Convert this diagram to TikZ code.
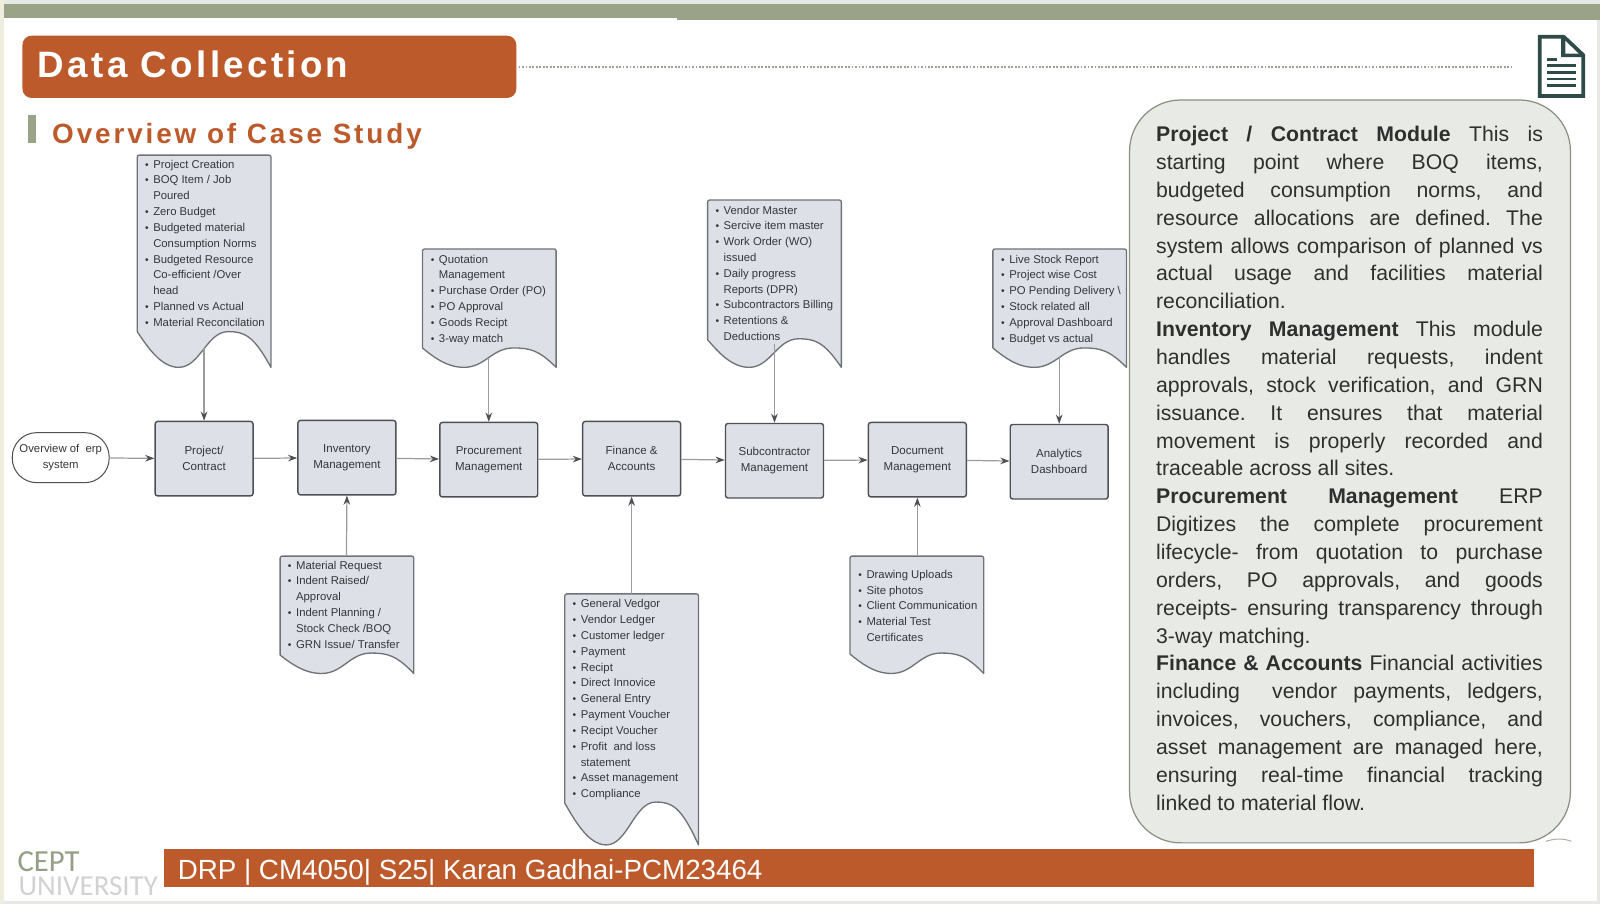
\documentclass[tikz,border=0pt]{standalone}
\usepackage{fontspec}
\setmainfont{Liberation Sans}
\newfontfamily\logofont{Carlito}
\usetikzlibrary{arrows.meta}
\definecolor{rust}{HTML}{BC5A2B}
\definecolor{sage}{HTML}{9AA388}
\definecolor{boxfill}{HTML}{DDE0E6}
\definecolor{boxline}{HTML}{4D5156}
\definecolor{docline}{HTML}{6E7378}
\definecolor{inktxt}{HTML}{33363A}
\definecolor{paneltxt}{HTML}{2E302E}
\definecolor{panelfill}{HTML}{E8EBE5}
\definecolor{panelline}{HTML}{8A8F80}
\definecolor{icon}{HTML}{2F4B49}
\definecolor{edge}{HTML}{E6E9E4}
\definecolor{creamedge}{HTML}{EFEDDD}
\definecolor{flowgrey}{HTML}{9A9C9E}
\definecolor{dotgrey}{HTML}{A0A098}
\newcommand{\flowfont}{\fontsize{11.1}{15.5}\selectfont}
\tikzset{
  x=1pt,y=-1pt,
  flowbox/.style={draw=boxline,line width=1.4pt,fill=boxfill,rounded corners=2.5pt,minimum width=96pt,minimum height=73pt,inner sep=0pt,align=center,text=inktxt,font=\fontsize{11.3}{15.5}\selectfont},
  pillbox/.style={draw=boxline,line width=1pt,fill=white,rounded corners=24pt,minimum width=95pt,minimum height=49pt,inner sep=0pt,align=center,text=inktxt,font=\flowfont},
  doctext/.style={anchor=north west,inner sep=0pt,align=left,text=inktxt,font=\flowfont},
  docshape/.style={draw=docline,line width=1.3pt,fill=boxfill,line join=round},
  arr/.style={draw=flowgrey,line width=1.2pt,-{Stealth[length=9pt,width=6.5pt,fill=boxline,color=boxline]}},
}
\newcommand{\bl}[1]{\makebox[8pt][l]{\fontsize{10}{10}\selectfont •}#1}
\newcommand{\cl}[1]{\hspace*{8pt}#1}
\newcommand{\jl}[1]{\makebox[379pt][s]{#1}}
% x0 x1 ytop yleft ypeak ybottom
\newcommand{\wavedoc}[6]{%
  \pgfmathsetmacro{\dw}{#2-#1}%
  \draw[docshape] (#1,#4) [rounded corners=2pt] -- (#1,#3) -- (#2,#3) [sharp corners] -- (#2,#6)
    .. controls ({#2-0.13*\dw},{#5+0.1*(#6-#5)}) and ({#1+0.80*\dw},#5) .. ({#1+0.68*\dw},#5)
    .. controls ({#1+0.52*\dw},#5) and ({#1+0.47*\dw},#6) .. ({#1+0.31*\dw},#6)
    .. controls ({#1+0.18*\dw},#6) and ({#1+0.08*\dw},{#4+0.45*(#6-#4)}) .. (#1,#4);}
\frenchspacing
\begin{document}
\begin{tikzpicture}
\useasboundingbox (0,0) rectangle (1568,886);
% page
\fill[edge] (0,0) rectangle (1568,886);
\fill[white] (4,4) rectangle (1565,883);
\fill[sage] (4,4) rectangle (663,18);
\fill[sage] (663,4) rectangle (1568,19.5);
\fill[creamedge] (0,0) rectangle (4,886);
% title
\node[fill=rust,rounded corners=9pt,minimum width=484pt,minimum height=61pt,inner sep=0pt] (titlebar) at (264,65.5) {};
\node[anchor=west,inner sep=0pt,text=white,font=\fontsize{36}{36}\selectfont\bfseries\addfontfeature{LetterSpace=9}] (titletext) at (37,63.5) {Data Collection};
\coordinate (dotend) at (1482,66);
\draw[dotgrey,line width=2.2pt,dash pattern=on 1.8pt off 1.6pt] (titlebar.east |- dotend) ++(2,0) -- (dotend);
% subtitle
\fill[sage] (27,113) rectangle (35,140);
\node[anchor=west,inner sep=0pt,text=rust,font=\fontsize{27.3}{27.3}\selectfont\bfseries\addfontfeature{LetterSpace=10.4}] (subtitle) at (51,134) {Overview of Case Study};
% icon
\draw[icon,line width=3.6pt,line join=miter,fill=white] (1509,36) -- (1532,36) -- (1551.5,54) -- (1551.5,94) -- (1509,94) -- cycle;
\fill[icon] (1530,35) -- (1534,35) -- (1553,53) -- (1553,56) -- (1530,56) -- cycle;
\fill[white] (1534,40) -- (1547,52.5) -- (1534,52.5) -- cycle;
\fill[icon] (1516,57) rectangle (1526,59.5);
\foreach \ly in {63,69.5,76,82.5}{\fill[icon] (1516,\ly) rectangle (1544,\ly+2.8);}
% flow boxes
\node[pillbox] (start) at (59.5,448.5) {Overview of~~erp\\system};
\node[flowbox] (b1) at (200,449.5) {Project/\\Contract};
\node[flowbox] (b2) at (340,448.5) {Inventory\\Management};
\node[flowbox] (b3) at (479,450.5) {Procurement\\Management};
\node[flowbox] (b4) at (619,449.5) {Finance \&\\Accounts};
\node[flowbox] (b5) at (759,451.5) {Subcontractor\\Management};
\node[flowbox] (b6) at (899,450.5) {Document\\Management};
\node[flowbox] (b7) at (1038,452.5) {Analytics\\Dashboard};
\foreach \a/\b in {start/b1,b1/b2,b2/b3,b3/b4,b4/b5,b5/b6,b6/b7}{\draw[arr] (\a) -- (\b);}
% documents
\wavedoc{134.5}{265.5}{152}{325}{325}{360}
\node[doctext] (d1) at (142,156.5) {\bl{Project Creation}\\\bl{BOQ Item / Job}\\\cl{Poured}\\\bl{Zero Budget}\\\bl{Budgeted material}\\\cl{Consumption Norms}\\\bl{Budgeted Resource}\\\cl{Co-efficient /Over}\\\cl{head}\\\bl{Planned vs Actual}\\\bl{Material Reconcilation}};
\wavedoc{414}{545}{244}{341}{341}{360}
\node[doctext] (d2) at (422,249.5) {\bl{Quotation}\\\cl{Management}\\\bl{Purchase Order (PO)}\\\bl{PO Approval}\\\bl{Goods Recipt}\\\bl{3-way match}};
\wavedoc{693.5}{824.5}{196}{333}{332}{360}
\node[doctext] (d3) at (701,201.5) {\bl{Vendor Master}\\\bl{Sercive item master}\\\bl{Work Order (WO)}\\\cl{issued}\\\bl{Daily progress}\\\cl{Reports (DPR)}\\\bl{Subcontractors Billing}\\\bl{Retentions \&}\\\cl{Deductions}};
\wavedoc{973}{1104}{244}{341}{341}{360}
\node[doctext] (d4) at (981,249.5) {\bl{Live Stock Report}\\\bl{Project wise Cost}\\\bl{PO Pending Delivery \textbackslash}\\\bl{Stock related all}\\\bl{Approval Dashboard}\\\bl{Budget vs actual}};
\wavedoc{274.5}{405.5}{545}{642}{640}{660}
\node[doctext] (d5) at (282,549.5) {\bl{Material Request}\\\bl{Indent Raised/}\\\cl{Approval}\\\bl{Indent Planning /}\\\cl{Stock Check /BOQ}\\\bl{GRN Issue/ Transfer}};
\wavedoc{553.5}{684.5}{582}{787}{786}{828}
\node[doctext] (d6) at (561,587.5) {\bl{General Vedgor}\\\bl{Vendor Ledger}\\\bl{Customer ledger}\\\bl{Payment}\\\bl{Recipt}\\\bl{Direct Innovice}\\\bl{General Entry}\\\bl{Payment Voucher}\\\bl{Recipt Voucher}\\\bl{Profit~~and loss}\\\cl{statement}\\\bl{Asset management}\\\bl{Compliance}};
\wavedoc{833}{964}{545}{641}{640}{660}
\node[doctext] (d7) at (841,558.5) {\bl{Drawing Uploads}\\\bl{Site photos}\\\bl{Client Communication}\\\bl{Material Test}\\\cl{Certificates}};
% connectors from documents
\coordinate (w1) at (200,341);
\coordinate (w2) at (479,351);
\coordinate (w3) at (759,337);
\coordinate (w4) at (1038,349);
\coordinate (w5) at (339.5,545);
\coordinate (w6) at (619,582);
\coordinate (w7) at (899,545);
\draw[arr] (w1) -- (b1.north);
\draw[arr] (w2) -- (b3.north);
\draw[arr] (w3) -- (b5.north);
\draw[arr] (w4) -- (b7.north);
\draw[arr] (w5) -- (b2.south);
\draw[arr] (w6) -- (b4.south);
\draw[arr] (w7) -- (b6.south);
% panel
\node[draw=panelline,line width=1.2pt,fill=panelfill,rounded corners=50pt,minimum width=432pt,minimum height=728pt,inner sep=0pt] (panel) at (1323,462) {};
\node[inner sep=0pt,align=left,text=paneltxt,font=\fontsize{20.8}{27.3}\selectfont] (paneltext) at (1322.5,459) {%
\jl{\textbf{Project / Contract Module} This is}\\
\jl{starting point where BOQ items,}\\
\jl{budgeted consumption norms, and}\\
\jl{resource allocations are defined. The}\\
\jl{system allows comparison of planned vs}\\
\jl{actual usage and facilities material}\\
reconciliation.\\
\jl{\textbf{Inventory Management} This module}\\
\jl{handles material requests, indent}\\
\jl{approvals, stock verification, and GRN}\\
\jl{issuance. It ensures that material}\\
\jl{movement is properly recorded and}\\
traceable across all sites.\\
\jl{\textbf{Procurement Management} ERP}\\
\jl{Digitizes the complete procurement}\\
\jl{lifecycle- from quotation to purchase}\\
\jl{orders, PO approvals, and goods}\\
\jl{receipts- ensuring transparency through}\\
3-way matching.\\
\jl{\textbf{Finance \& Accounts} Financial activities}\\
\jl{including~~vendor payments, ledgers,}\\
\jl{invoices, vouchers, compliance, and}\\
\jl{asset management are managed here,}\\
\jl{ensuring real-time financial tracking}\\
linked to material flow.};
\draw[panelline!70,line width=1pt] (1515,824.5) .. controls (1524,821.5) and (1532,821.5) .. (1540,824.5);
% footer
\node[fill=rust,minimum width=1342pt,minimum height=37pt,inner sep=0pt,anchor=west] (footer) at (161,850.5) {};
\node[anchor=west,inner sep=0pt,text=white,font=\fontsize{27.2}{27.2}\selectfont] (footertext) at (174,855) {DRP | CM4050| S25| Karan Gadhai-PCM23464};
% logo
\node[anchor=west,inner sep=0pt,text=sage!85!gray,font=\logofont\fontsize{30}{30}\selectfont] (logo1) at (17,844) {CEPT};
\node[anchor=west,inner sep=0pt,text=gray!35,font=\logofont\fontsize{28.4}{28.4}\selectfont] (logo2) at (18,868) {UNIVERSITY};
\end{tikzpicture}
\end{document}
